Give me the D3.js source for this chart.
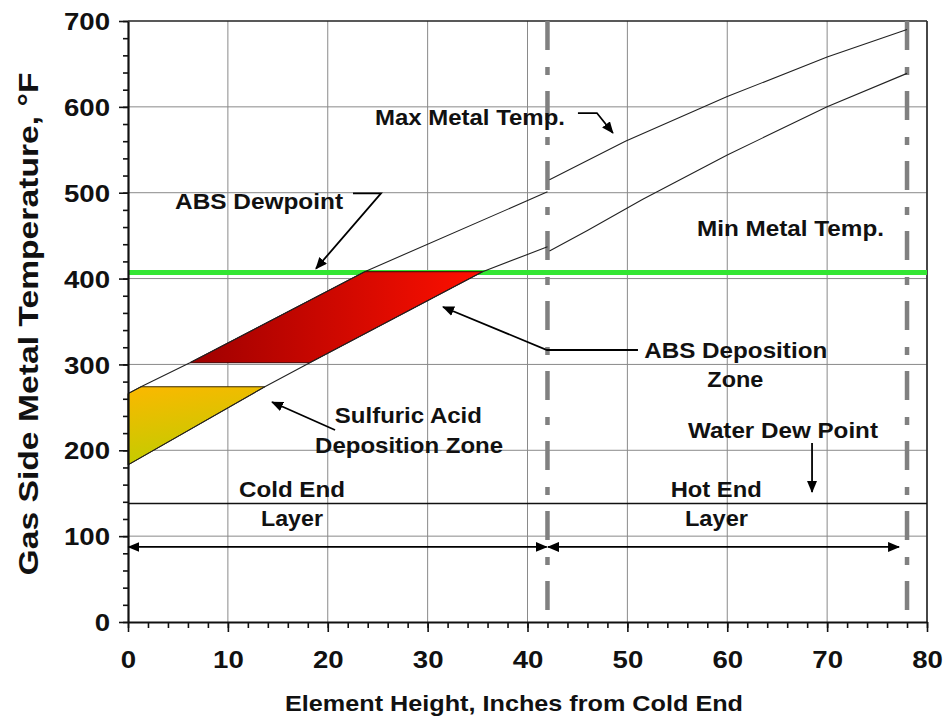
<!DOCTYPE html>
<html><head><meta charset="utf-8">
<script src="https://cdn.jsdelivr.net/npm/d3@7"></script>
<style>
body{margin:0;background:#fff}
text{font-family:"Liberation Sans",Arial,sans-serif;font-weight:bold;fill:#111}
</style>
</head><body>
<svg id="c" width="943" height="719"></svg>
<script>
// ---------- data ----------
const xTicks = [0,10,20,30,40,50,60,70,80];
const yTicks = [0,100,200,300,400,500,600,700];
const xTickLabels = ["0","10","20","30","40","50","60","70","80"];
const yTickLabels = ["0","100","200","300","400","500","600","700"];

// Max / Min metal temperature, cold-end layer and hot-end layer
const maxColdX = [0, 1.3, 6.2, 23.7, 42];
const maxColdT = [266, 274, 302, 408, 501];
const minColdX = [0, 13.7, 18.2, 35.5, 42];
const minColdT = [183, 274, 302, 408, 437];
const maxHotX  = [42.2, 49.8, 60, 70, 78];
const maxHotT  = [515, 560, 612, 658, 690];
const minHotX  = [42.2, 46, 51.5, 60, 70, 78];
const minHotT  = [432, 456, 492, 544, 600, 639];

// deposition zones (polygons)
const sulfuricX = [0, 0, 1.3, 13.7];
const sulfuricT = [183, 266, 274, 274];
const absZoneX  = [6.2, 23.7, 35.5, 18.2];
const absZoneT  = [302, 408, 408, 302];

const absDewpointT = 407;
const waterDewT = 138;
const layerBounds = [42, 78];

// ---------- setup ----------
const svg = d3.select("#c");
const x = d3.scaleLinear().domain([0,80]).range([128,927]);
const y = d3.scaleLinear().domain([0,700]).range([622,21]);

const defs = svg.append("defs");
const gy = defs.append("linearGradient").attr("id","gy")
  .attr("x1","0").attr("y1","0").attr("x2","0.25").attr("y2","1");
gy.append("stop").attr("offset","0").attr("stop-color","#fbb800");
gy.append("stop").attr("offset","1").attr("stop-color","#c2cc00");
const gr = defs.append("linearGradient").attr("id","gr")
  .attr("x1","0").attr("y1","0").attr("x2","1").attr("y2","0");
gr.append("stop").attr("offset","0").attr("stop-color","#9e0000");
gr.append("stop").attr("offset","1").attr("stop-color","#ff1000");
defs.append("marker").attr("id","ah").attr("viewBox","0 0 12 10")
  .attr("refX",11).attr("refY",5).attr("markerWidth",12).attr("markerHeight",10)
  .attr("markerUnits","userSpaceOnUse").attr("orient","auto-start-reverse")
  .append("path").attr("d","M0,0L12,5L0,10z").attr("fill","#000");

// ---------- grid ----------
svg.append("g").selectAll("line").data(xTicks.filter(d=>d>0&&d<80)).join("line")
  .attr("x1",d=>x(d)).attr("x2",d=>x(d)).attr("y1",y(0)).attr("y2",y(700))
  .attr("stroke","#8a8a8a").attr("stroke-width",1);
svg.append("g").selectAll("line").data(yTicks.filter(d=>d>0&&d<700)).join("line")
  .attr("y1",d=>y(d)).attr("y2",d=>y(d)).attr("x1",x(0)).attr("x2",x(80))
  .attr("stroke","#8a8a8a").attr("stroke-width",1);
// border top/right
svg.append("line").attr("x1",x(0)).attr("x2",x(80)).attr("y1",y(700)).attr("y2",y(700))
  .attr("stroke","#222").attr("stroke-width",1.5);
svg.append("line").attr("x1",x(80)).attr("x2",x(80)).attr("y1",y(700)).attr("y2",y(0))
  .attr("stroke","#333").attr("stroke-width",1.8);

// water dew point line
svg.append("line").attr("x1",x(0)).attr("x2",x(80)).attr("y1",y(waterDewT)).attr("y2",y(waterDewT))
  .attr("stroke","#111").attr("stroke-width",1.5);

// layer boundaries (dash-dot)
svg.append("g").selectAll("line").data(layerBounds).join("line")
  .attr("x1",d=>x(d)).attr("x2",d=>x(d)).attr("y1",y(700)).attr("y2",y(0))
  .attr("stroke","#808080").attr("stroke-width",4.5).attr("stroke-dasharray","29,17,8,16");

// ABS dewpoint line
svg.append("line").attr("x1",x(0)).attr("x2",x(80)).attr("y1",y(absDewpointT)).attr("y2",y(absDewpointT))
  .attr("stroke","#33e633").attr("stroke-width",5);

// zones
const poly = (xs,ts) => xs.map((v,i)=>[x(v),y(ts[i])].join(",")).join(" ");
svg.append("polygon").attr("points",poly(sulfuricX,sulfuricT))
  .attr("fill","url(#gy)").attr("stroke","#3a2a00").attr("stroke-width",1);
svg.append("polygon").attr("points",poly(absZoneX,absZoneT))
  .attr("fill","url(#gr)").attr("stroke","#400").attr("stroke-width",1);

// curves
const line = d3.line().x(d=>x(d[0])).y(d=>y(d[1]));
[[maxColdX,maxColdT],[minColdX,minColdT],[maxHotX,maxHotT],[minHotX,minHotT]].forEach(([xs,ts])=>{
  svg.append("path").attr("d",line(xs.map((v,i)=>[v,ts[i]])))
    .attr("fill","none").attr("stroke","#222").attr("stroke-width",1.1);
});

// ---------- axes ----------
const yMinor = svg.append("g").attr("transform",`translate(${x(0)},0)`)
  .call(d3.axisLeft(y).tickValues(d3.range(0,701,20)).tickSize(5).tickFormat(""));
yMinor.select(".domain").remove();
const xMinor = svg.append("g").attr("transform",`translate(0,${y(0)})`)
  .call(d3.axisBottom(x).tickValues(d3.range(0,81,2)).tickSize(6).tickFormat(""));
xMinor.select(".domain").remove();

const yAx = svg.append("g").attr("transform",`translate(${x(0)},0)`)
  .call(d3.axisLeft(y).tickValues(yTicks).tickSize(9).tickSizeOuter(0)
    .tickFormat((d,i)=>yTickLabels[i]));
const xAx = svg.append("g").attr("transform",`translate(0,${y(0)})`)
  .call(d3.axisBottom(x).tickValues(xTicks).tickSize(10).tickSizeOuter(0)
    .tickFormat((d,i)=>xTickLabels[i]));
[yAx,xAx,yMinor,xMinor].forEach(g=>{
  g.selectAll(".tick line").attr("stroke","#111").attr("stroke-width",1.6);
  g.select(".domain").attr("stroke","#111").attr("stroke-width",2.2);
});
yAx.selectAll("text").attr("x",-15.6).attr("dy","0.36em")
  .attr("transform","scale(1.15,1)").style("font-size","24px").attr("fill","#111");
xAx.selectAll("text").attr("y",29).attr("dy","0.71em")
  .attr("transform","scale(1.15,1)").style("font-size","24px").attr("fill","#111");
xAx.selectAll(".tick").each(function(d){
  d3.select(this).select("text").attr("x", 0);
});

// axis titles
svg.append("text").attr("transform","translate(38,324) rotate(-90)")
  .attr("text-anchor","middle").style("font-size","28px")
  .attr("textLength",503).attr("lengthAdjust","spacingAndGlyphs")
  .text("Gas Side Metal Temperature, °F");
svg.append("text").attr("x",514).attr("y",711)
  .attr("text-anchor","middle").style("font-size","22px")
  .attr("textLength",458).attr("lengthAdjust","spacingAndGlyphs")
  .text("Element Height, Inches from Cold End");

// ---------- annotations ----------
const labels = [
  {t:"Max Metal Temp.", x:34.24, v:578.9, w:190},
  {t:"ABS Dewpoint", x:13.12, v:481.0, w:168},
  {t:"Min Metal Temp.", x:66.33, v:449.6, w:187},
  {t:"ABS Deposition", x:60.85, v:307.1, w:183},
  {t:"Zone", x:60.81, v:273.4, w:56},
  {t:"Sulfuric Acid", x:28.07, v:231.4, w:147},
  {t:"Deposition Zone", x:28.14, v:197.2, w:188},
  {t:"Water Dew Point", x:65.58, v:214.7, w:190},
  {t:"Cold End", x:16.42, v:145.2, w:106},
  {t:"Layer", x:16.42, v:111.8, w:62},
  {t:"Hot End", x:58.89, v:145.9, w:91},
  {t:"Layer", x:58.92, v:111.8, w:63}
];
svg.append("g").selectAll("text").data(labels).join("text")
  .attr("x",d=>x(d.x)).attr("y",d=>y(d.v)).attr("text-anchor","middle")
  .style("font-size","22px").attr("textLength",d=>d.w).attr("lengthAdjust","spacingAndGlyphs")
  .text(d=>d.t);

const arrows = [
  {pts:[[45.05,592.8],[46.95,592.8],[48.55,569.5]], both:false},
  {pts:[[22.53,499.3],[25.33,499.3],[18.82,411.5]], both:false},
  {pts:[[51.06,316.8],[41.95,316.8],[31.54,366.9]], both:false},
  {pts:[[20.73,223.6],[14.42,256.2]], both:false},
  {pts:[[68.49,208.5],[68.49,151.4]], both:false},
  {pts:[[0.05,87.4],[41.92,87.4]], both:true},
  {pts:[[42.05,87.4],[77.2,87.4]], both:true}
];
arrows.forEach(a=>{
  const p = svg.append("path").attr("d",line(a.pts)).attr("fill","none")
    .attr("stroke","#000").attr("stroke-width",1.8).attr("marker-end","url(#ah)");
  if(a.both) p.attr("marker-start","url(#ah)");
});
</script>
</body></html>
